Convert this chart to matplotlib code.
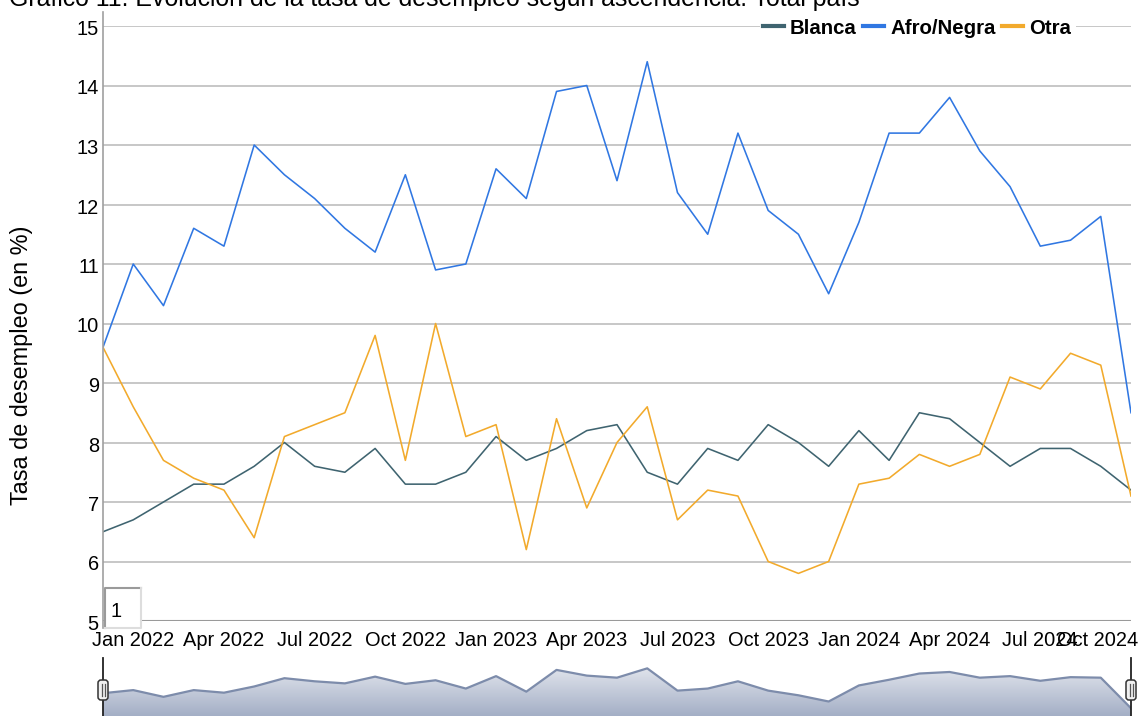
import numpy as np
import pandas as pd
import matplotlib
matplotlib.use('Agg')
import matplotlib.pyplot as plt
from matplotlib.lines import Line2D
from matplotlib.patches import Rectangle, FancyBboxPatch
from matplotlib.colors import LinearSegmentedColormap
from matplotlib import transforms

plt.rcParams['font.family'] = ['Liberation Sans', 'DejaVu Sans']

W, H = 1138, 716

titulo = "Gráfico 11. Evolución de la tasa de desempleo según ascendencia. Total país"
ylabel = "Tasa de desempleo (en %)"

# monthly data, Dec 2021 - Oct 2024
meses = pd.date_range('2021-12-01', periods=35, freq='MS')
blanca = [6.5, 6.7, 7.0, 7.3, 7.3, 7.6, 8.0, 7.6, 7.5, 7.9, 7.3, 7.3, 7.5, 8.1, 7.7, 7.9, 8.2, 8.3,
          7.5, 7.3, 7.9, 7.7, 8.3, 8.0, 7.6, 8.2, 7.7, 8.5, 8.4, 8.0, 7.6, 7.9, 7.9, 7.6, 7.2]
afro = [9.6, 11.0, 10.3, 11.6, 11.3, 13.0, 12.5, 12.1, 11.6, 11.2, 12.5, 10.9, 11.0, 12.6, 12.1, 13.9, 14.0, 12.4,
        14.4, 12.2, 11.5, 13.2, 11.9, 11.5, 10.5, 11.7, 13.2, 13.2, 13.8, 12.9, 12.3, 11.3, 11.4, 11.8, 8.5]
otra = [9.6, 8.6, 7.7, 7.4, 7.2, 6.4, 8.1, 8.3, 8.5, 9.8, 7.7, 10.0, 8.1, 8.3, 6.2, 8.4, 6.9, 8.0,
        8.6, 6.7, 7.2, 7.1, 6.0, 5.8, 6.0, 7.3, 7.4, 7.8, 7.6, 7.8, 9.1, 8.9, 9.5, 9.3, 7.1]
series = ['Blanca', 'Afro/Negra', 'Otra']
colores = ['#3f6470', '#3077e2', '#f2aa2c']

fig = plt.figure(figsize=(W / 100, H / 100), dpi=100)

# main chart
ax = fig.add_axes([103 / W, 1 - 621 / H, 1028 / W, 595 / H])
x = np.arange(len(meses))
for vals, c in zip([blanca, afro, otra], colores):
    ax.plot(x, vals, color=c, lw=1.15)
ax.set_xlim(0, len(x) - 1)
ax.set_ylim(5, 15)
ax.set_yticks(range(5, 16))
ax.grid(axis='y', color='#bdbdbd', lw=1.2)
ax.set_axisbelow(True)
for s in ax.spines.values():
    s.set_visible(False)
ax.axhline(5, color='#9a9a9a', lw=1.5)

ticks = [i for i, m in enumerate(meses) if m.month in (1, 4, 7, 10)]
ax.set_xticks(ticks)
ax.set_xticklabels([meses[i].strftime('%b %Y') for i in ticks])
ax.tick_params(axis='x', length=0, labelsize=14.4, pad=7.5)
ax.tick_params(axis='y', length=0, labelsize=14.4, pad=3)
last = ax.get_xticklabels()[-1]
last.set_ha('right')
last.set_transform(last.get_transform() + transforms.ScaledTranslation(7 / 100, 0, fig.dpi_scale_trans))
for lbl in ax.get_yticklabels():
    lbl.set_transform(lbl.get_transform() + transforms.ScaledTranslation(0, -1.5 / 100, fig.dpi_scale_trans))

fig.add_artist(Line2D([103 / W] * 2, [1 - 12 / H, 1 - 628 / H], color='#a0a0a0', lw=1.2))

# titles
fig.text(9 / W, 1 - 6 / H, titulo, fontsize=17.9, ha='left', va='baseline')
fig.text(22 / W, 1 - 365 / H, ylabel, rotation=90, ha='center', va='center', fontsize=16.9)

# legend
renderer = fig.canvas.get_renderer()
fig.add_artist(Rectangle((760 / W, 1 - 37 / H), 316 / W, 24 / H, transform=fig.transFigure,
                         fc='white', ec='none', zorder=4))
xp = 763
yl = 1 - 25.5 / H
for name, c in zip(series, colores):
    fig.add_artist(Line2D([xp / W, (xp + 21) / W], [yl, yl], color=c, lw=3, zorder=5))
    t = fig.text((xp + 27) / W, 1 - 33.5 / H, name, fontsize=14.7, fontweight='bold',
                 ha='left', va='baseline', zorder=5)
    bb = t.get_window_extent(renderer)
    xp = bb.x1 + 6.5

# "1" input box
bx0, by0, bx1, by1 = 105, 588, 141, 628
fig.add_artist(Rectangle((bx0 / W, 1 - by1 / H), (bx1 - bx0) / W, (by1 - by0) / H,
                         transform=fig.transFigure, fc='white', ec='none', zorder=3))
fig.add_artist(Line2D([bx0 / W, bx0 / W, bx1 / W], [1 - by1 / H, 1 - by0 / H, 1 - by0 / H],
                      color='#9a9a9a', lw=1.5, zorder=4))
fig.add_artist(Line2D([bx1 / W, bx1 / W, bx0 / W], [1 - by0 / H, 1 - by1 / H, 1 - by1 / H],
                      color='#dddddd', lw=1.5, zorder=4))
fig.text(111 / W, 1 - 617 / H, '1', fontsize=14.4, ha='left', va='baseline', zorder=5)

# range navigator (sum of the series)
total = np.array(blanca) + np.array(afro) + np.array(otra)
nav = fig.add_axes([103 / W, 0, 1028 / W, 58 / H])
nav.set_xlim(0, len(x) - 1)
y0, y1 = total.min() - 1.5, total.max() + 2
nav.set_ylim(y0, y1)
cmap = LinearSegmentedColormap.from_list('nav', ['#eceef3', '#a4afc6'])
im = nav.imshow(np.linspace(0, 1, 100).reshape(-1, 1), cmap=cmap, aspect='auto',
                extent=[0, len(x) - 1, y0, y1], origin='upper')
poly = nav.fill_between(x, total, y0, color='none')
im.set_clip_path(poly.get_paths()[0], transform=nav.transData)
nav.plot(x, total, color='#7d8cab', lw=1.6)
nav.axis('off')

for hx in (103, 1131):
    xi = hx / 100
    fig.add_artist(Line2D([xi, xi], [0, 0.58], transform=fig.dpi_scale_trans, color='#222222', lw=1.3, zorder=5))
    fig.add_artist(FancyBboxPatch((xi - 0.05, 0.16), 0.10, 0.20, boxstyle='round,pad=0,rounding_size=0.03',
                                  transform=fig.dpi_scale_trans, fc='#f0f0f0', ec='#333333', lw=1.1, zorder=6))
    for dx in (-0.015, 0.015):
        fig.add_artist(Line2D([xi + dx, xi + dx], [0.20, 0.32], transform=fig.dpi_scale_trans,
                              color='#555555', lw=0.9, zorder=7))

fig.savefig('out.png', dpi=100)
